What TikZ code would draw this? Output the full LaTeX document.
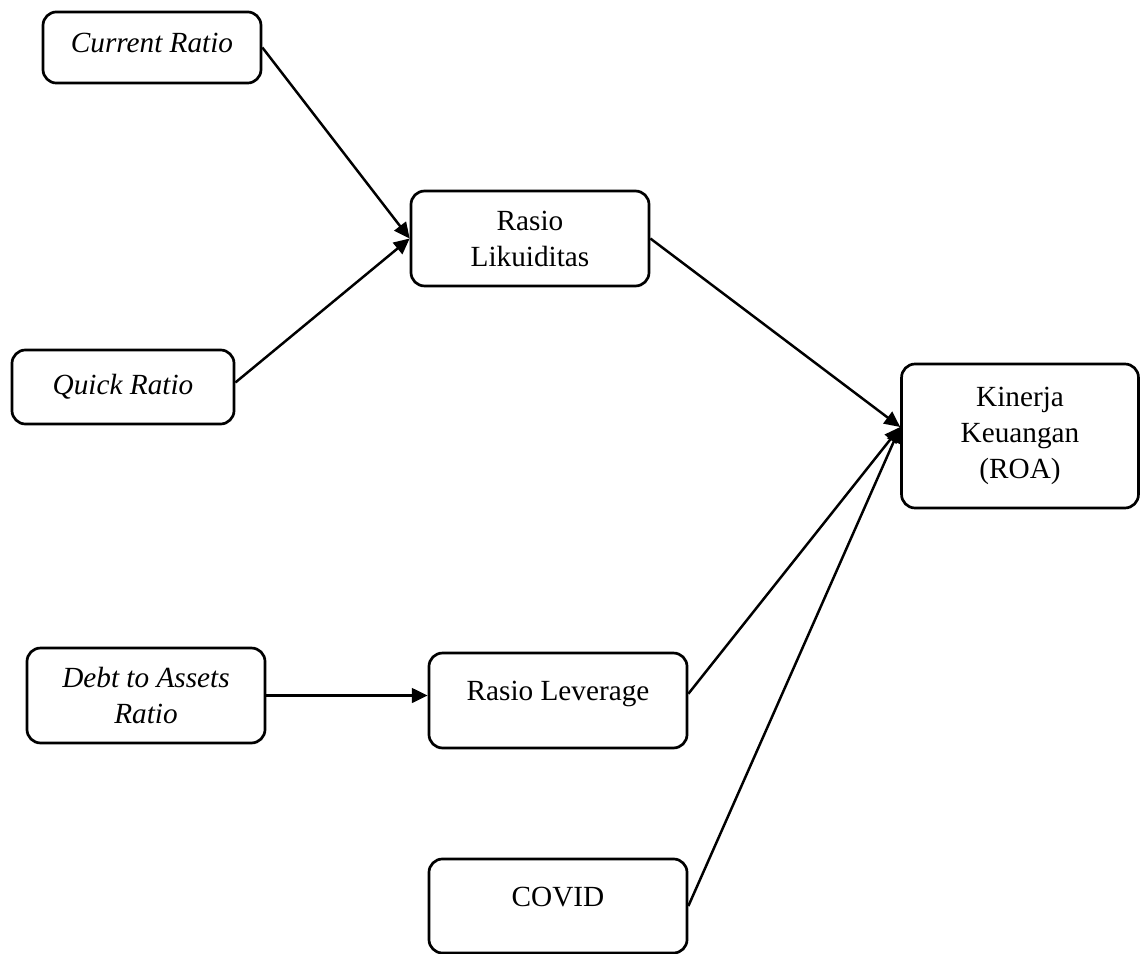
\documentclass[tikz,border=0pt]{standalone}
\usepackage{fontspec}
\setmainfont{Liberation Serif}
\usetikzlibrary{arrows.meta}

\begin{document}
\begin{tikzpicture}[x=0.4445pt, y=-0.4445pt,
    box/.style={draw, line width=1.2pt, rounded corners=6pt, align=center, inner sep=0pt,
        font=\fontsize{13}{16}\selectfont},
    lifted/.style={text height=8pt, text depth=8pt},
    link/.style={line width=1.1pt, -{Triangle[length=7pt, width=6.5pt]}}]
%% The page is as big as the reference picture, so fix the bounding box first.
    \useasboundingbox (0,0) rectangle (1140,954);
%% Left column: the indicators. Coordinates are the box centres (y runs downwards).
    \node[box, minimum width=96.9pt, minimum height=31.6pt, text depth=4pt] (cur) at (152,47.5) {\textit{Current Ratio}};
    \node[box, minimum width=98.7pt, minimum height=32.9pt] (quick) at (123,387) {\textit{Quick Ratio}};
    \node[box, minimum width=105.8pt, minimum height=42.2pt] (debt) at (146,695.5) {\textit{Debt to Assets}\\\textit{Ratio}};
%% Middle column: the ratios and the control variable.
    \node[box, minimum width=105.8pt, minimum height=42.2pt] (liq) at (530,238.5) {Rasio\\Likuiditas};
    \node[box, lifted, minimum width=114.7pt, minimum height=42.2pt] (lev) at (558,700.5) {Rasio Leverage};
    \node[box, lifted, minimum width=114.7pt, minimum height=41.8pt] (covid) at (558,906) {COVID};
%% Right: the outcome. All three arrows meet in one point on its left side.
    \node[box, minimum width=105.3pt, minimum height=64pt] (kin) at (1020,436) {Kinerja\\Keuangan\\(ROA)};
    \coordinate (kinin) at ([yshift=4pt]kin.west);
%% The arrows.
    \draw[link] (cur.east) -- (liq.west);
    \draw[link] ([yshift=2pt]quick.east) -- (liq.west);
    \draw[link] (debt.east) -- (debt.east -| lev.west);
    \draw[link] (liq.east) -- (kinin);
    \draw[link] ([yshift=3pt]lev.east) -- (kinin);
    \draw[link] (covid.east) -- (kinin);
%\draw[help lines, step=100] (0,0) grid (1140,954);
\end{tikzpicture}
\end{document}
